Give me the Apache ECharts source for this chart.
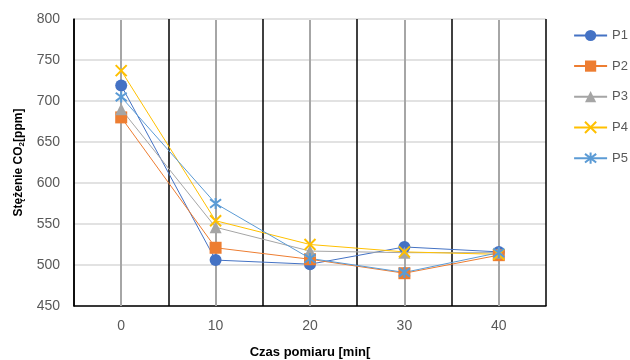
<!DOCTYPE html>
<html><head><meta charset="utf-8">
<script src="https://cdn.jsdelivr.net/npm/echarts@6/dist/echarts.min.js"></script>
<style>html,body{margin:0;padding:0;background:#fff}#c{width:630px;height:360px}</style>
</head><body><div id="c"></div>
<script>
const categories = ['0', '10', '20', '30', '40'];
const seriesNames = ['P1', 'P2', 'P3', 'P4', 'P5'];
const P1 = [719, 506, 501, 522, 516];
const P2 = [680, 521, 507, 490, 512];
const P3 = [690, 546, 517, 515, 515];
const P4 = [737, 554, 525, 516, 513];
const P5 = [705, 575, 508, 491, 515];
const yTicks = [450, 500, 550, 600, 650, 700, 750, 800];

const colors = ['#4472C4', '#ED7D31', '#A5A5A5', '#FFC000', '#5B9BD5'];
const symbols = ['circle', 'rect', 'triangle',
  'path://M0,0L10,10M10,0L0,10',
  'path://M0,0L10,10M10,0L0,10M5,-1.5L5,11.5'];
const sizes = [12, 12, 12, 11, 11];
const values = [P1, P2, P3, P4, P5];

const chart = echarts.init(document.getElementById('c'), null, {renderer: 'canvas'});
const font = 'Liberation Sans, Arial, sans-serif';
chart.setOption({
  animation: false,
  textStyle: {fontFamily: font},
  grid: {left: 74, right: 84, top: 19, bottom: 54, containLabel: false, outerBoundsMode: 'none'},
  legend: {
    orient: 'vertical', right: -3, top: 24,
    itemWidth: 33, itemHeight: 14, itemGap: 17.6,
    textStyle: {fontFamily: font, fontSize: 13, color: '#595959'},
    data: seriesNames
  },
  xAxis: {
    type: 'category', data: categories, boundaryGap: true,
    name: 'Czas pomiaru [min[', nameLocation: 'middle', nameGap: 40,
    nameTextStyle: {fontFamily: font, fontWeight: 'bold', fontSize: 13, color: '#000'},
    axisLine: {lineStyle: {color: '#000', width: 1.5}},
    axisTick: {show: true, alignWithLabel: true, inside: true, length: 286,
      lineStyle: {color: '#A6A6A6', width: 2}},
    axisLabel: {fontFamily: font, fontSize: 14, color: '#595959', margin: 13},
    splitLine: {show: true, lineStyle: {color: '#000', width: 1.5}}
  },
  yAxis: {
    type: 'value', min: yTicks[0], max: yTicks[yTicks.length - 1], interval: 50,
    name: 'Stężenie CO{sub|2}[ppm]', nameLocation: 'middle', nameGap: 42,
    nameTextStyle: {fontFamily: font, fontWeight: 'bold', fontSize: 12, color: '#000',
      rich: {sub: {fontFamily: font, fontWeight: 'bold', fontSize: 8, color: '#000', padding: [7, 0, 0, 0]}}},
    axisLine: {show: true, lineStyle: {color: '#000', width: 1.5}},
    axisTick: {show: false},
    axisLabel: {fontFamily: font, fontSize: 14, color: '#595959', margin: 14},
    splitLine: {show: true, lineStyle: {color: '#D9D9D9', width: 1.5}}
  },
  series: seriesNames.map((n, i) => ({
    name: n, type: 'line', data: values[i],
    symbol: symbols[i], symbolSize: sizes[i], showSymbol: true,
    lineStyle: {color: colors[i], width: 1},
    itemStyle: {color: colors[i], borderColor: colors[i], borderWidth: i >= 3 ? 2 : 0},
    emphasis: {disabled: true}
  }))
});
</script></body></html>
